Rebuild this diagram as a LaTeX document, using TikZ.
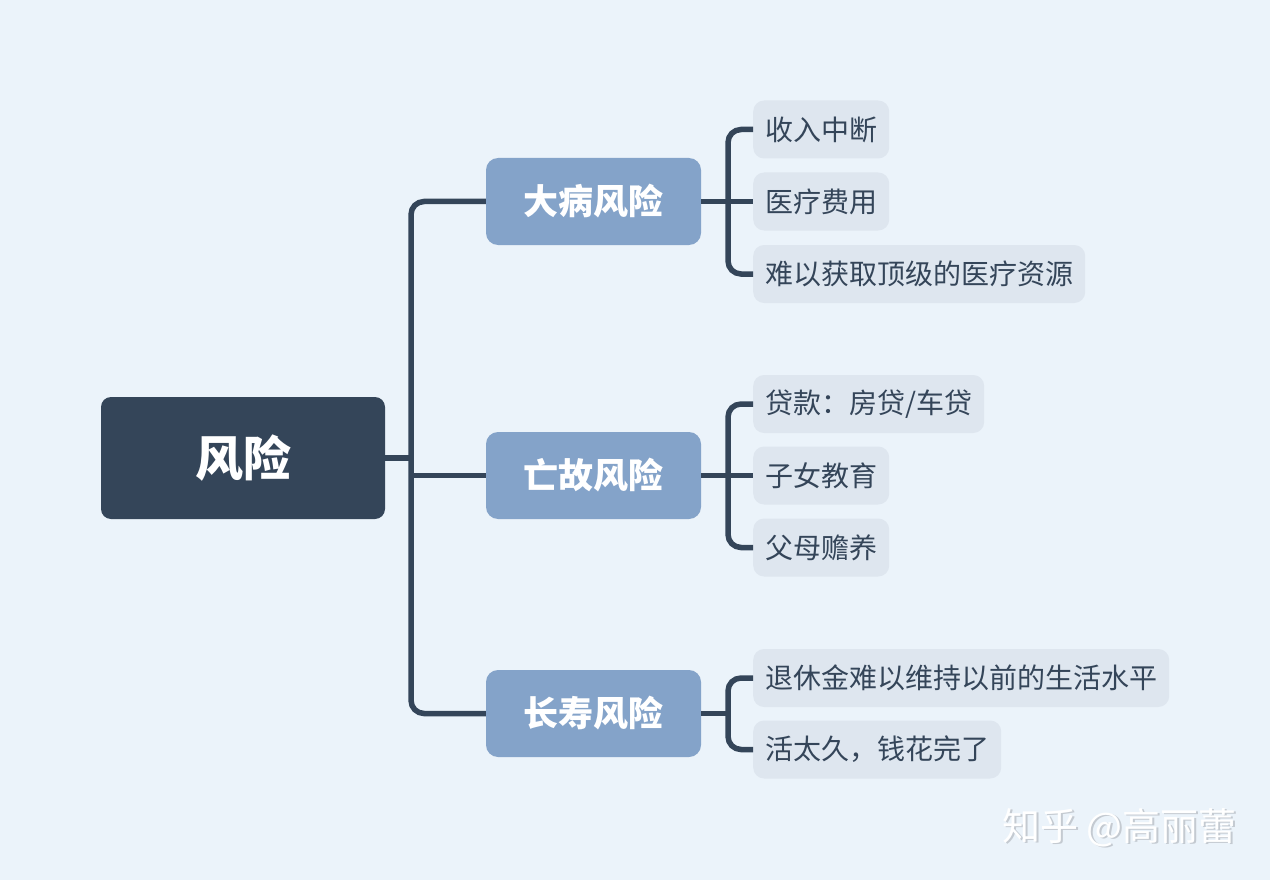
\documentclass[tikz,border=0pt]{standalone}
\usepackage{fontspec}
\setmainfont{Noto Sans CJK SC}
\usepackage{tikz}

\definecolor{bgcol}{HTML}{EBF3FA}
\definecolor{navy}{HTML}{344559}
\definecolor{topic}{HTML}{84A3C9}
\definecolor{leafcol}{HTML}{DEE6EF}
\definecolor{markgray}{HTML}{C4CAD1}

\tikzset{
  rootbox/.style={fill=navy, text=white, rounded corners=10pt, minimum width=284pt, minimum height=122pt, font=\fontsize{48}{50}\selectfont\bfseries},
  topicbox/.style={fill=topic, text=white, rounded corners=12pt, minimum width=215pt, minimum height=87pt, font=\fontsize{35}{38}\selectfont\bfseries},
  leafbox/.style={fill=leafcol, text=navy, rounded corners=11pt, anchor=west, inner xsep=12pt, minimum height=58pt, font=\fontsize{28}{30}\selectfont},
  link/.style={draw=navy, line width=5.5pt, rounded corners=13pt}
}

\begin{document}
\begin{tikzpicture}[x=1pt, y=-1pt]
    \fill [bgcol] (0, 0) rectangle (1270, 880);
    \useasboundingbox (0, 0) rectangle (1270, 880);

    \node [rootbox] (root) at (243, 458) {风险};
    \node [topicbox] (b1) at (593.5, 201.5) {大病风险};
    \node [topicbox] (b2) at (593.5, 475.5) {亡故风险};
    \node [topicbox] (b3) at (593.5, 713.5) {长寿风险};

    \node [leafbox] (l11) at (753, 129.5) {收入中断};
    \node [leafbox] (l12) at (753, 201.5) {医疗费用};
    \node [leafbox] (l13) at (753, 274) {难以获取顶级的医疗资源};
    \node [leafbox] (l21) at (753, 404) {贷款：房贷/车贷};
    \node [leafbox] (l22) at (753, 475.5) {子女教育};
    \node [leafbox] (l23) at (753, 547.5) {父母赡养};
    \node [leafbox] (l31) at (753, 678) {退休金难以维持以前的生活水平};
    \node [leafbox] (l32) at (753, 749.5) {活太久，钱花完了};

    \coordinate (trunk) at (411, 458);
    \coordinate (k1) at (728, 201.5);
    \coordinate (k2) at (728, 475.5);
    \coordinate (k3) at (728, 713.5);

    \draw [link] (root.east) -- (trunk);
    \draw [link] (b1.west) -| (trunk) |- (b3.west);
    \draw [link] (trunk |- b2.west) -- (b2.west);

    \draw [link] (b1.east) -- (k1);
    \draw [link] (l11.west) -| (k1) |- (l13.west);
    \draw [link] (k1) -- (l12.west);

    \draw [link] (b2.east) -- (k2);
    \draw [link] (l21.west) -| (k2) |- (l23.west);
    \draw [link] (k2) -- (l22.west);

    \draw [link] (b3.east) -- (k3);
    \draw [link] (l31.west) -| (k3) |- (l32.west);

    % watermark
    \node [text=markgray, font=\fontsize{38}{40}\selectfont, anchor=east] (wm0) at (1242, 829) {知乎 @高丽蕾};
    \node [text=white, font=\fontsize{38}{40}\selectfont, anchor=east] (wm) at (1240.5, 827.5) {知乎 @高丽蕾};
\end{tikzpicture}
\end{document}
